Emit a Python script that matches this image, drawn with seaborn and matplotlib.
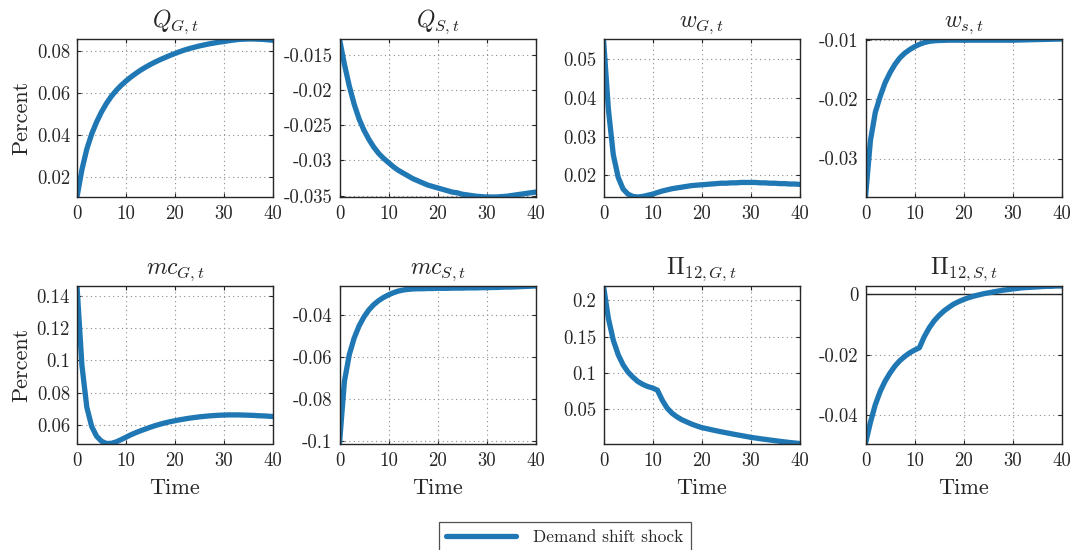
import matplotlib
matplotlib.use("Agg")
import matplotlib.pyplot as plt
import seaborn as sns
import pandas as pd
from matplotlib.ticker import FuncFormatter, FixedLocator

# ---------------- data ----------------
time = list(range(41))

q_g = [0.0105, 0.0235, 0.0333, 0.0405, 0.0462, 0.0510, 0.0550, 0.0584, 0.0612, 0.0636,
       0.0657, 0.0676, 0.0693, 0.0709, 0.0723, 0.0736, 0.0748, 0.0759, 0.0769, 0.0779,
       0.0788, 0.0797, 0.0805, 0.0812, 0.0818, 0.0824, 0.0829, 0.0834, 0.0838, 0.0842,
       0.0845, 0.0849, 0.0852, 0.0855, 0.0856, 0.0857, 0.0857, 0.0856, 0.0855, 0.0853,
       0.0851]

q_s = [-0.0127, -0.0163, -0.0194, -0.0220, -0.0241, -0.0257, -0.0270, -0.0281, -0.0290, -0.0297,
       -0.0303, -0.0309, -0.0314, -0.0318, -0.0322, -0.0326, -0.0329, -0.0332, -0.0335, -0.0337,
       -0.0339, -0.0341, -0.0343, -0.0345, -0.0346, -0.0348, -0.0349, -0.0350, -0.0351, -0.03515,
       -0.0352, -0.0352, -0.0352, -0.03515, -0.0351, -0.0350, -0.0349, -0.0348, -0.0347, -0.0346,
       -0.0345]

w_g = [0.0551, 0.0370, 0.0253, 0.0195, 0.0165, 0.0152, 0.0146, 0.01446, 0.0146, 0.0149,
       0.0152, 0.0156, 0.0160, 0.0163, 0.0166, 0.0168, 0.0170, 0.0172, 0.0174, 0.0175,
       0.0176, 0.0177, 0.0178, 0.0179, 0.0180, 0.0180, 0.0181, 0.0181, 0.0182, 0.0182,
       0.0182, 0.0182, 0.0181, 0.0181, 0.0180, 0.0180, 0.0179, 0.0179, 0.0178, 0.0178,
       0.0177]

w_s = [-0.0365, -0.0270, -0.0222, -0.0195, -0.0172, -0.0155, -0.0141, -0.0130, -0.0122, -0.0116,
       -0.0111, -0.0107, -0.0104, -0.0102, -0.0101, -0.01005, -0.01003, -0.0100, -0.0100, -0.0100,
       -0.0100, -0.0100, -0.0100, -0.0100, -0.0100, -0.0100, -0.0100, -0.0100, -0.0100, -0.0100,
       -0.0100, -0.00998, -0.00996, -0.00994, -0.00992, -0.0099, -0.00988, -0.00986, -0.00984, -0.00982,
       -0.0098]

mc_g = [0.146, 0.097, 0.071, 0.059, 0.0530, 0.0499, 0.0485, 0.0486, 0.0495, 0.0509,
        0.0524, 0.0539, 0.0552, 0.0564, 0.0575, 0.0586, 0.0596, 0.0605, 0.0613, 0.0620,
        0.0626, 0.0632, 0.0637, 0.0642, 0.0646, 0.0650, 0.0653, 0.0656, 0.0658, 0.0660,
        0.0661, 0.0662, 0.0662, 0.0662, 0.0661, 0.0660, 0.0659, 0.0657, 0.0656, 0.0654,
        0.0652]

mc_s = [-0.1010, -0.0716, -0.0589, -0.0510, -0.0453, -0.0410, -0.0377, -0.0352, -0.0333, -0.0318,
        -0.0306, -0.0296, -0.0288, -0.0283, -0.0280, -0.0278, -0.0277, -0.0277, -0.0276, -0.0276,
        -0.0275, -0.0275, -0.0275, -0.0274, -0.0274, -0.0274, -0.0273, -0.0273, -0.0273, -0.0272,
        -0.0272, -0.0271, -0.0271, -0.0270, -0.0269, -0.0269, -0.0268, -0.0267, -0.0266, -0.0265,
        -0.0264]

pi_g = [0.220, 0.175, 0.145, 0.125, 0.111, 0.101, 0.094, 0.088, 0.084, 0.081,
        0.079, 0.076, 0.062, 0.051, 0.044, 0.039, 0.035, 0.032, 0.029, 0.0265,
        0.0243, 0.0228, 0.0213, 0.0198, 0.0184, 0.0171, 0.0158, 0.0145, 0.0133, 0.0121,
        0.0108, 0.0098, 0.0088, 0.0079, 0.0070, 0.0061, 0.0052, 0.0044, 0.0036, 0.0029,
        0.0022]

pi_s = [-0.0495, -0.0425, -0.0366, -0.0322, -0.0288, -0.0261, -0.0238, -0.0220, -0.0206, -0.0194,
        -0.0185, -0.0177, -0.0140, -0.0111, -0.0088, -0.0070, -0.0055, -0.0043, -0.0032, -0.0024,
        -0.0017, -0.0011, -0.0006, -0.0002, 0.0002, 0.0005, 0.0008, 0.0011, 0.0014, 0.0016,
        0.0018, 0.0020, 0.0022, 0.0023, 0.0024, 0.0025, 0.0026, 0.0027, 0.0027, 0.0028,
        0.0028]

series = [q_g, q_s, w_g, w_s, mc_g, mc_s, pi_g, pi_s]
titles = [r"$Q_{G,t}$", r"$Q_{S,t}$", r"$w_{G,t}$", r"$w_{s,t}$",
          r"$mc_{G,t}$", r"$mc_{S,t}$", r"$\Pi_{12,G,t}$", r"$\Pi_{12,S,t}$"]
yticks = [[0.02, 0.04, 0.06, 0.08],
          [-0.035, -0.03, -0.025, -0.02, -0.015],
          [0.02, 0.03, 0.04, 0.05],
          [-0.03, -0.02, -0.01],
          [0.06, 0.08, 0.1, 0.12, 0.14],
          [-0.1, -0.08, -0.06, -0.04],
          [0.05, 0.1, 0.15, 0.2],
          [-0.04, -0.02, 0]]
xticks = [0, 10, 20, 30, 40]
legend_label = "Demand shift shock"

# ---------------- style ----------------
sns.set_style("ticks")
plt.rcParams["font.family"] = ["cmr10", "DejaVu Serif"]
plt.rcParams["mathtext.fontset"] = "cm"
plt.rcParams["axes.unicode_minus"] = False

fig = plt.figure(figsize=(10.75, 5.5), dpi=100)

W, H = 1075.0, 550.0
lefts = [77, 339.5, 603.5, 865.5]
width = 196
rows = [(39, 197), (286, 443.5)]

line_color = "#1f77b4"
fmt = FuncFormatter(lambda v, p: "{:g}".format(round(v, 6)))

handle = None
for i, (vals, title, yt) in enumerate(zip(series, titles, yticks)):
    r, c = divmod(i, 4)
    top, bot = rows[r]
    ax = fig.add_axes([lefts[c] / W, 1 - bot / H, width / W, (bot - top) / H])
    df = pd.DataFrame({"Time": time, "value": vals})
    sns.lineplot(data=df, x="Time", y="value", ax=ax, color=line_color,
                 linewidth=3.8, label=legend_label, legend=False)
    ax.axhline(0, color="#262626", linewidth=1.0, zorder=1)
    ax.set_xlim(0, 40)
    ax.set_ylim(min(vals), max(vals))
    ax.xaxis.set_major_locator(FixedLocator(xticks))
    ax.yaxis.set_major_locator(FixedLocator(yt))
    ax.yaxis.set_major_formatter(fmt)
    ax.xaxis.set_major_formatter(fmt)
    ax.grid(True, linestyle=(0, (1, 3)), color="#8c8c8c", linewidth=0.8)
    ax.tick_params(direction="in", top=True, right=True, length=3, width=0.8,
                   labelsize=13.5, colors="#262626", labelcolor="#262626")
    ax.tick_params(axis="x", pad=6)
    ax.tick_params(axis="y", pad=5)
    for s in ax.spines.values():
        s.set_color("#262626")
        s.set_linewidth(1.0)
    ax.set_title(title, fontsize=17, pad=9)
    ax.set_ylabel("Percent" if c == 0 else "", fontsize=16, labelpad=4)
    ax.set_xlabel("Time" if r == 1 else "", fontsize=16, labelpad=6)
    if handle is None:
        handle = ax.get_lines()[0]

leg = fig.legend([handle], [legend_label], loc="upper center",
                 bbox_to_anchor=(565 / W, 1 - 522 / H), borderaxespad=0,
                 frameon=True, fancybox=False, edgecolor="#262626",
                 fontsize=12.5, handlelength=4.0, borderpad=0.45,
                 handletextpad=1.0)
leg.get_frame().set_linewidth(0.9)

fig.savefig("out.png", dpi=100, facecolor="white")
